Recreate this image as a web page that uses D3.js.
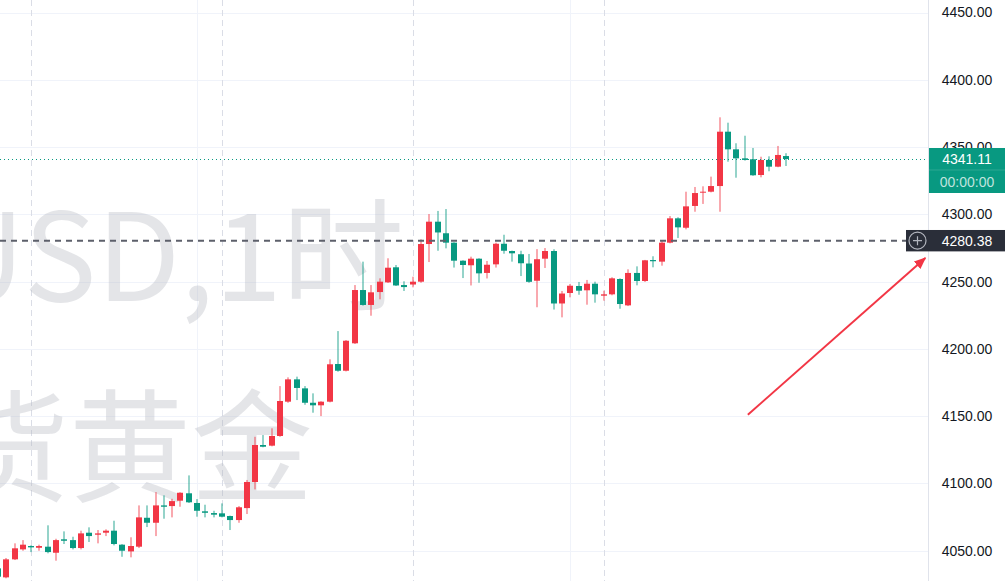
<!DOCTYPE html>
<html>
<head>
<meta charset="utf-8">
<script src="https://cdn.jsdelivr.net/npm/d3@7"></script>
<style>
  html, body { margin: 0; padding: 0; background: #fff; }
  svg { display: block; }
</style>
</head>
<body>
<svg id="chart" width="1005" height="581"></svg>
<script>
// hourly candles, oldest first (red = up, green = down)
const opens = [
  4036.8, 4030.1, 4043.5, 4050.9, 4053.4, 4052.1, 4052.9, 4048.4, 4058.4, 4057.8,
  4051.9, 4063.3, 4061.8, 4063.3, 4064.8, 4054.4, 4049.4, 4052.9, 4074.4, 4070.7,
  4083.6, 4083.1, 4087.1, 4092.6, 4085.4, 4079.2, 4077.9, 4077.7, 4075.7, 4072.7,
  4081.6, 4101.0, 4128.5, 4128.0, 4135.2, 4160.7, 4177.3, 4170.6, 4159.9, 4158.0,
  4160.7, 4188.7, 4183.7, 4204.1, 4243.7, 4232.6, 4242.2, 4249.4, 4260.6, 4247.4,
  4247.8, 4249.9, 4277.9, 4294.5, 4285.9, 4278.9, 4265.5, 4262.1, 4267.0, 4256.4,
  4262.8, 4278.1, 4272.7, 4270.3, 4263.4, 4250.6, 4267.0, 4272.7, 4233.7, 4241.5,
  4246.7, 4243.5, 4248.4, 4239.5, 4240.5, 4251.9, 4232.3, 4256.4, 4250.4, 4266.0,
  4264.8, 4278.9, 4297.0, 4290.0, 4306.2, 4316.1, 4316.8, 4321.0, 4361.4, 4348.3,
  4341.6, 4340.9, 4329.2, 4340.4, 4335.4, 4343.3
];
const highs = [
  4038.5, 4044.5, 4055.4, 4057.8, 4053.9, 4054.4, 4068.8, 4058.8, 4064.3, 4060.3,
  4064.8, 4067.3, 4065.3, 4065.8, 4072.2, 4054.8, 4059.9, 4083.6, 4083.6, 4093.5,
  4091.1, 4088.5, 4093.4, 4105.9, 4088.3, 4084.1, 4079.6, 4085.1, 4076.0, 4083.1,
  4102.5, 4134.6, 4135.9, 4140.9, 4172.3, 4178.8, 4179.3, 4172.3, 4166.9, 4161.0,
  4192.2, 4213.2, 4206.5, 4247.4, 4264.8, 4247.4, 4252.4, 4267.3, 4262.3, 4250.2,
  4253.6, 4281.4, 4300.2, 4302.5, 4303.9, 4279.2, 4265.8, 4268.5, 4267.3, 4265.3,
  4278.9, 4284.8, 4273.0, 4272.9, 4270.5, 4274.1, 4274.9, 4274.0, 4243.0, 4248.2,
  4249.7, 4251.2, 4249.9, 4243.2, 4253.2, 4252.4, 4259.1, 4261.3, 4266.1, 4268.8,
  4280.4, 4298.7, 4297.8, 4316.8, 4320.3, 4320.8, 4328.0, 4372.1, 4368.1, 4352.8,
  4358.4, 4349.3, 4342.8, 4343.1, 4350.8, 4345.4
];
const lows = [
  4029.6, 4029.4, 4043.0, 4049.9, 4048.9, 4049.9, 4048.0, 4042.5, 4054.9, 4050.9,
  4050.9, 4056.4, 4055.4, 4060.8, 4053.9, 4045.4, 4045.0, 4051.9, 4067.5, 4060.8,
  4073.7, 4074.7, 4082.6, 4085.4, 4075.2, 4074.7, 4074.7, 4074.7, 4065.3, 4070.7,
  4077.2, 4095.5, 4126.8, 4127.5, 4134.6, 4159.9, 4161.9, 4158.4, 4152.5, 4150.0,
  4160.2, 4183.0, 4183.2, 4203.6, 4232.1, 4224.6, 4236.8, 4249.0, 4246.7, 4243.0,
  4245.7, 4249.1, 4264.5, 4272.9, 4274.7, 4260.4, 4252.6, 4247.1, 4249.1, 4252.3,
  4260.4, 4270.7, 4264.8, 4254.1, 4249.1, 4230.9, 4260.1, 4229.2, 4223.4, 4238.3,
  4240.2, 4232.8, 4234.3, 4235.8, 4239.8, 4229.8, 4231.8, 4247.2, 4249.7, 4260.6,
  4261.8, 4278.4, 4282.4, 4288.8, 4301.9, 4307.7, 4316.3, 4301.9, 4339.1, 4327.2,
  4339.9, 4328.6, 4327.5, 4332.0, 4335.0, 4335.9
];
const closes = [
  4030.6, 4043.5, 4051.7, 4054.4, 4052.4, 4053.4, 4048.9, 4057.8, 4057.3, 4051.9,
  4062.8, 4060.8, 4062.8, 4064.8, 4054.9, 4049.9, 4053.4, 4074.7, 4070.7, 4083.6,
  4082.6, 4086.8, 4093.0, 4085.9, 4079.6, 4078.1, 4076.7, 4075.2, 4072.7, 4082.2,
  4101.0, 4128.5, 4127.2, 4135.2, 4161.2, 4177.3, 4170.9, 4159.9, 4158.0, 4160.7,
  4188.5, 4183.7, 4206.0, 4243.7, 4232.6, 4242.0, 4249.9, 4260.3, 4247.1, 4245.9,
  4249.9, 4277.9, 4294.5, 4286.5, 4278.9, 4265.5, 4262.3, 4267.0, 4256.1, 4262.5,
  4278.1, 4272.9, 4271.0, 4263.6, 4249.8, 4266.6, 4272.7, 4233.7, 4241.1, 4246.9,
  4243.2, 4248.4, 4240.5, 4240.5, 4252.4, 4233.3, 4256.4, 4250.4, 4265.8, 4265.1,
  4278.9, 4297.0, 4290.3, 4305.9, 4315.8, 4316.8, 4321.0, 4361.4, 4348.3, 4341.6,
  4340.4, 4329.0, 4340.4, 4335.4, 4344.1, 4341.11
];

const priceTicks = [4050, 4100, 4150, 4200, 4250, 4300, 4350, 4400, 4450];
const sessionStarts = [4, 27, 50, 73];   // dashed day separators (bar index)
const timeGridBars = [24, 69];           // solid vertical grid lines
const lastPrice = 4341.11;
const lastCountdown = "00:00:00";
const markedPrice = 4280.38;
const watermarkLines = ["XAUUSD,1时", "现货黄金"];
// arrow drawn on the chart: [bar index, price]
const arrowFrom = [90.4, 4151];
const arrowTo = [111.8, 4267.5];

const UP = "#f23645", DOWN = "#089981";

let svg = d3.select("#chart");
let width = +svg.attr("width");
let height = +svg.attr("height");
let paneRight = 928;

let x = d3.scaleLinear().domain([0, 95]).range([-2, 786]);
let y = d3.scaleLinear().domain([4027.4, 4459.3]).range([height, 0]);

svg.append("defs").append("clipPath").attr("id", "pane")
  .append("rect").attr("x", 0).attr("y", 0).attr("width", paneRight).attr("height", height);

svg.select("defs").append("marker")
  .attr("id", "head")
  .attr("markerUnits", "userSpaceOnUse")
  .attr("markerWidth", 14).attr("markerHeight", 10)
  .attr("refX", 11).attr("refY", 5)
  .attr("orient", "auto")
  .append("path").attr("d", "M0,0 L12,5 L0,10 Z").attr("fill", UP);

let pane = svg.append("g").attr("clip-path", "url(#pane)");

// horizontal grid
pane.append("g")
  .selectAll("line")
  .data(priceTicks)
  .enter()
  .append("line")
  .attr("x1", 0).attr("x2", paneRight)
  .attr("y1", d => Math.round(y(d)) + 0.5)
  .attr("y2", d => Math.round(y(d)) + 0.5)
  .attr("stroke", "#f0f3fa");

// vertical grid
pane.append("g")
  .selectAll("line")
  .data(timeGridBars)
  .enter()
  .append("line")
  .attr("x1", d => Math.round(x(d)) + 0.5)
  .attr("x2", d => Math.round(x(d)) + 0.5)
  .attr("y1", 0).attr("y2", height)
  .attr("stroke", "#f0f3fa");

pane.append("g")
  .selectAll("line")
  .data(sessionStarts)
  .enter()
  .append("line")
  .attr("x1", d => Math.round(x(d)) + 0.5)
  .attr("x2", d => Math.round(x(d)) + 0.5)
  .attr("y1", 0).attr("y2", height)
  .attr("stroke", "#dadde6")
  .attr("stroke-dasharray", "6,4");

// watermark
pane.append("g")
  .selectAll("text")
  .data(watermarkLines)
  .enter()
  .append("text")
  .attr("x", (d, i) => i === 0 ? 404 : 313)
  .attr("y", (d, i) => i === 0 ? 301 : 492)
  .attr("text-anchor", "end")
  .attr("font-family", "'Noto Sans CJK SC', sans-serif")
  .attr("font-size", 122)
  .attr("fill", "rgba(178,181,190,0.35)")
  .text(d => d);

// candles
let bars = d3.range(opens.length);
let candles = pane.append("g")
  .selectAll("g")
  .data(bars)
  .enter()
  .append("g");

candles.append("rect")
  .attr("x", i => Math.round(x(i)) - 0.5)
  .attr("width", 1)
  .attr("y", i => y(highs[i]))
  .attr("height", i => y(lows[i]) - y(highs[i]))
  .attr("fill", i => closes[i] >= opens[i] ? UP : DOWN)
  .attr("fill-opacity", 0.85);

candles.append("rect")
  .attr("x", i => Math.round(x(i)) - 3)
  .attr("width", 6)
  .attr("y", i => y(Math.max(opens[i], closes[i])))
  .attr("height", i => Math.max(1, Math.abs(y(opens[i]) - y(closes[i]))))
  .attr("fill", i => closes[i] >= opens[i] ? UP : DOWN);

// last price dotted line
pane.append("line")
  .attr("x1", 0).attr("x2", paneRight)
  .attr("y1", Math.round(y(lastPrice)) + 0.5)
  .attr("y2", Math.round(y(lastPrice)) + 0.5)
  .attr("stroke", DOWN)
  .attr("stroke-dasharray", "1,3");

// marked horizontal line
svg.append("line")
  .attr("x1", 0).attr("x2", 906)
  .attr("y1", y(markedPrice)).attr("y2", y(markedPrice))
  .attr("stroke", "#5d606b")
  .attr("stroke-width", 2)
  .attr("stroke-dasharray", "6,5");

// price axis
let axisG = svg.append("g")
  .attr("transform", "translate(" + (paneRight + 39) + ",0)")
  .call(d3.axisRight(y).tickValues(priceTicks).tickFormat(d3.format(".2f")).tickSize(0).tickPadding(0));

axisG.select(".domain").remove();
axisG.selectAll("text")
  .attr("text-anchor", "middle")
  .attr("font-family", "'Liberation Sans', Arial, sans-serif")
  .attr("font-size", 14)
  .attr("fill", "#131722");

svg.append("line")
  .attr("x1", paneRight + 0.5).attr("x2", paneRight + 0.5)
  .attr("y1", 0).attr("y2", height)
  .attr("stroke", "#e0e3eb");

// last price label
let ly = y(lastPrice);
svg.append("rect")
  .attr("x", paneRight + 1).attr("y", ly - 11)
  .attr("width", width - paneRight - 1).attr("height", 45)
  .attr("fill", DOWN);
svg.append("line")
  .attr("x1", paneRight + 1).attr("x2", width)
  .attr("y1", ly + 11).attr("y2", ly + 11)
  .attr("stroke", "rgba(255,255,255,0.15)");
svg.append("text")
  .attr("x", paneRight + 39).attr("y", ly)
  .attr("dy", "0.36em")
  .attr("text-anchor", "middle")
  .attr("font-family", "'Liberation Sans', Arial, sans-serif")
  .attr("font-size", 14)
  .attr("fill", "#fff")
  .text(d3.format(".2f")(lastPrice));
svg.append("text")
  .attr("x", paneRight + 39).attr("y", ly + 22.5)
  .attr("dy", "0.36em")
  .attr("text-anchor", "middle")
  .attr("font-family", "'Liberation Sans', Arial, sans-serif")
  .attr("font-size", 14)
  .attr("fill", "rgba(255,255,255,0.75)")
  .text(lastCountdown);

// marked price label with crosshair icon
let my = y(markedPrice);
svg.append("rect")
  .attr("x", 906).attr("y", my - 10.7)
  .attr("width", width - 906).attr("height", 21.4)
  .attr("fill", "#2a2e39");
svg.append("text")
  .attr("x", paneRight + 39).attr("y", my)
  .attr("dy", "0.36em")
  .attr("text-anchor", "middle")
  .attr("font-family", "'Liberation Sans', Arial, sans-serif")
  .attr("font-size", 14)
  .attr("fill", "#fff")
  .text(d3.format(".2f")(markedPrice));
let icon = svg.append("g").attr("transform", "translate(917.5," + my + ")");
icon.append("circle").attr("r", 8.5).attr("fill", "none").attr("stroke", "#b2b5be").attr("stroke-width", 1.2);
icon.append("path").attr("d", "M-4.5,0H4.5M0,-4.5V4.5").attr("stroke", "#b2b5be").attr("stroke-width", 1.2);

// red arrow
svg.append("line")
  .attr("x1", x(arrowFrom[0])).attr("y1", y(arrowFrom[1]))
  .attr("x2", x(arrowTo[0])).attr("y2", y(arrowTo[1]))
  .attr("stroke", UP)
  .attr("stroke-width", 2)
  .attr("marker-end", "url(#head)");
</script>
</body>
</html>
